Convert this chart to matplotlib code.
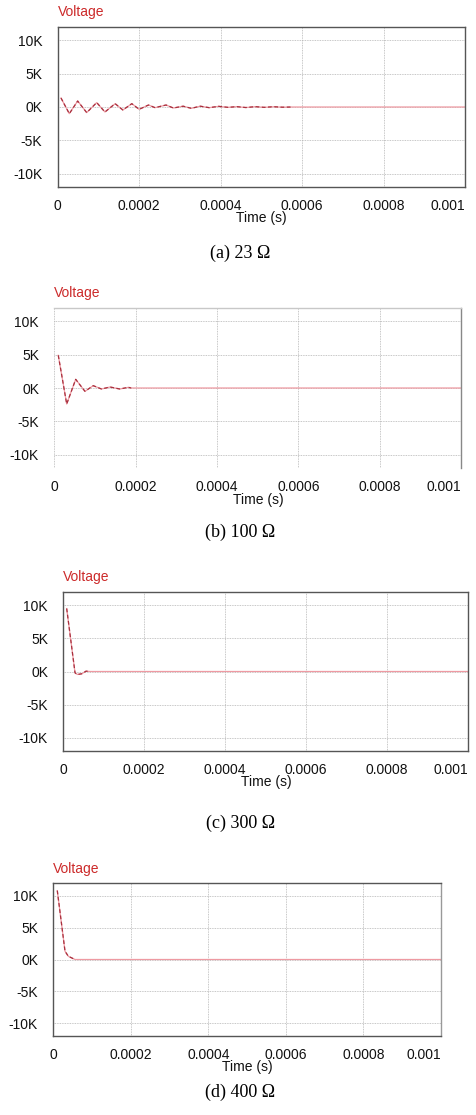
import matplotlib
matplotlib.use("Agg")
import matplotlib.pyplot as plt

# ---- data (time in s, voltage in kV) ----
t_a = [0.0000081, 0.0000285, 0.000049, 0.0000712, 0.0000958, 0.000116, 0.000141,
       0.00016, 0.000182, 0.0002, 0.000223, 0.000239, 0.000266, 0.000284,
       0.000308, 0.000328, 0.000350, 0.000372, 0.000395, 0.000418, 0.000440,
       0.000462, 0.000485, 0.000507, 0.000530, 0.000552, 0.000575]
v_a = [1.35, -1.0, 0.9, -0.84, 0.66, -0.75, 0.5, -0.45, 0.5, -0.35, 0.3, -0.1,
       0.3, -0.15, 0.12, -0.2, 0.12, -0.1, 0.1, -0.05, 0.05, -0.08, 0.05,
       -0.05, 0.04, -0.03, 0.0]

t_b = [0.0000098, 0.0000305, 0.0000526, 0.0000754, 0.0000958, 0.000116,
       0.000137, 0.000161, 0.000182, 0.000189]
v_b = [4.9, -2.4, 1.3, -0.5, 0.35, -0.15, 0.15, -0.15, 0.1, 0.0]

t_c = [0.0000084, 0.000029, 0.0000347, 0.0000455, 0.0000562, 0.000066]
v_c = [9.5, -0.2, -0.45, -0.35, 0.05, 0.0]

t_d = [0.0000103, 0.0000302, 0.0000388, 0.0000561]
v_d = [10.8, 1.3, 0.5, 0.0]

captions = ["(a) 23 \u03a9", "(b) 100 \u03a9", "(c) 300 \u03a9", "(d) 400 \u03a9"]
series = [(t_a, v_a), (t_b, v_b), (t_c, v_c), (t_d, v_d)]

x_ticks = [0, 0.0002, 0.0004, 0.0006, 0.0008, 0.001]
x_labels = ["0", "0.0002", "0.0004", "0.0006", "0.0008", "0.001"]
y_ticks = [-10, -5, 0, 5, 10]
y_labels = ["-10K", "-5K", "0K", "5K", "10K"]

# panel boxes in pixels: left, right, top, bottom
boxes = [(57.7, 465, 27, 187),
         (54.3, 461, 308, 468),
         (63.3, 467.7, 592, 751),
         (53.3, 441, 883, 1036)]
volt_y = [12, 293, 577, 869]
time_x = [261, 258, 266, 247]
time_y = [218, 500, 782, 1067]
cap_y = [253, 532, 823, 1092]

W, H = 476, 1115
fig = plt.figure(figsize=(W / 100, H / 100), dpi=100)
plt.rcParams['font.family'] = ['Liberation Sans', 'DejaVu Sans']

for i, ((t, v), (l, r, top, bot)) in enumerate(zip(series, boxes)):
    ax = fig.add_axes([l / W, 1 - bot / H, (r - l) / W, (bot - top) / H])
    ax.set_xlim(0, 0.001)
    ax.set_ylim(-12, 12)

    # pale trace all the way, darker dashed over the transient
    ax.plot(list(t) + [0.001], list(v) + [0.0], color='#ee9aa2', lw=0.9, zorder=2)
    ax.plot(t, v, color='#a8303e', lw=0.9, ls=(0, (3, 2)), zorder=3)

    ax.set_xticks(x_ticks)
    ax.set_xticklabels(x_labels)
    ax.set_yticks(y_ticks)
    ax.set_yticklabels(y_labels)
    ax.get_xticklabels()[-1].set_ha('right')
    ax.tick_params(length=0, labelsize=10, colors='#111111')
    ax.tick_params(axis='x', pad=8.5)
    ax.tick_params(axis='y', pad=11)
    ax.grid(True, color='#b4b4b4', lw=0.6, ls=(0, (1, 1)))
    ax.set_axisbelow(True)

    for s in ax.spines.values():
        s.set_color('#555555')
        s.set_linewidth(1.0)
    if i == 1:
        ax.spines['left'].set_visible(False)
        ax.spines['bottom'].set_visible(False)
        ax.spines['top'].set_color('#c8c8c8')
        ax.spines['right'].set_color('#888888')
    if i == 3:
        ax.spines['right'].set_color('#999999')

    fig.text(l / W, 1 - volt_y[i] / H, "Voltage", color='#cc2a2a', fontsize=10,
             ha='left', va='center')
    fig.text(time_x[i] / W, 1 - time_y[i] / H, "Time (s)", fontsize=10,
             ha='center', va='center', color='#111111')
    fig.text(240 / W, 1 - cap_y[i] / H, captions[i], fontsize=13,
             family=['Liberation Serif', 'DejaVu Serif'], ha='center', va='center')

fig.savefig("out.png", dpi=100)
